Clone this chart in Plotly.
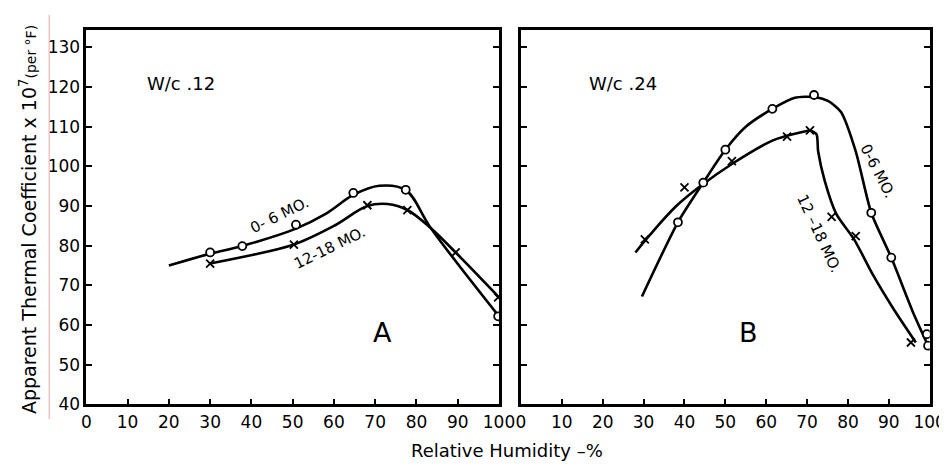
import plotly.graph_objects as go

# ---------------- data ----------------
# Panel A : w/c .12
A_06_pts_x = [30, 37.8, 50.8, 64.7, 77.4, 99.8]
A_06_pts_y = [78.3, 79.9, 85.3, 93.3, 94.1, 62.2]
A_06_curve_x = [20, 30, 38, 50.8, 58, 64.7, 71, 77.4, 83.5, 100]
A_06_curve_y = [75, 78, 80, 84.3, 88, 92.8, 95.1, 94, 84.4, 62.2]

A_1218_pts_x = [30, 50.3, 68.1, 77.8, 89.5, 99.8]
A_1218_pts_y = [75.5, 80.3, 90.2, 89.0, 78.3, 67.0]
A_1218_curve_x = [30, 39, 50.3, 60, 68.1, 73, 77.8, 83.5, 89.5, 100]
A_1218_curve_y = [75.5, 77.4, 80.3, 85, 90, 90.5, 89, 84.4, 78.3, 67]

# Panel B : w/c .24
B_06_pts_x = [38.4, 44.6, 50, 61.5, 71.7, 85.7, 90.6, 99.3, 99.6]
B_06_pts_y = [85.9, 95.9, 104.2, 114.5, 118.0, 88.3, 77.0, 57.7, 54.8]
B_06_curve_x = [29.6, 38.4, 44.6, 50, 55, 61.5, 67, 71.7, 75.1, 78.3, 81.9, 85.7, 90.6, 95.8, 99.6]
B_06_curve_y = [67.2, 85.9, 95.9, 104.2, 110, 114.5, 117.3, 117.5, 116.5, 113.7, 103.8, 88.3, 77, 63.5, 54.8]

B_1218_pts_x = [30.3, 40, 51.6, 65.1, 70.7, 76.0, 81.9, 95.4]
B_1218_pts_y = [81.6, 94.7, 101.3, 107.5, 109.1, 87.3, 82.4, 55.6]
B_1218_rise_x = [28, 31.6, 38, 44, 51.6, 61.5, 65, 70.7]
B_1218_rise_y = [78.3, 82.8, 90, 95.1, 100.6, 106.5, 107.7, 109.1]
B_1218_fall_x = [70.7, 72.3, 72.7, 74.3, 77.1, 81.5, 86.2, 91, 96.6]
B_1218_fall_y = [109.1, 108.1, 103.8, 96.4, 88.1, 81.6, 72.5, 64.3, 55.6]

x_ticks = [0, 10, 20, 30, 40, 50, 60, 70, 80, 90, 100]
y_ticks = [40, 50, 60, 70, 80, 90, 100, 110, 120, 130]

FONT = "DejaVu Sans"
LW = 2.6

fig = go.Figure()


def curve(x, y, xa, ya, smooth=1.0):
    fig.add_trace(go.Scatter(x=x, y=y, xaxis=xa, yaxis=ya, mode="lines",
                             line=dict(color="black", width=LW, shape="spline", smoothing=smooth),
                             hoverinfo="skip", showlegend=False))


def circles(x, y, xa, ya):
    fig.add_trace(go.Scatter(x=x, y=y, xaxis=xa, yaxis=ya, mode="markers",
                             marker=dict(symbol="circle", size=8, color="white",
                                         line=dict(color="black", width=1.8)),
                             showlegend=False))


def crosses(x, y, xa, ya):
    fig.add_trace(go.Scatter(x=x, y=y, xaxis=xa, yaxis=ya, mode="markers",
                             marker=dict(symbol="x-thin", size=8,
                                         line=dict(color="black", width=1.8)),
                             showlegend=False))


curve(A_06_curve_x, A_06_curve_y, "x", "y")
curve(A_1218_curve_x, A_1218_curve_y, "x", "y")
circles(A_06_pts_x, A_06_pts_y, "x", "y")
crosses(A_1218_pts_x, A_1218_pts_y, "x", "y")

curve(B_06_curve_x, B_06_curve_y, "x2", "y2", smooth=0.7)
curve(B_1218_rise_x, B_1218_rise_y, "x2", "y2")
curve(B_1218_fall_x, B_1218_fall_y, "x2", "y2", smooth=0.7)
circles(B_06_pts_x, B_06_pts_y, "x2", "y2")
crosses(B_1218_pts_x, B_1218_pts_y, "x2", "y2")

W, H = 947, 470
ax_common = dict(showgrid=False, zeroline=False, showline=True, linecolor="black",
                 linewidth=LW, mirror=True, ticks="inside", ticklen=6, tickwidth=2,
                 tickcolor="black", tickfont=dict(family=FONT, size=17, color="black"))

fig.update_layout(
    width=W, height=H, margin=dict(l=0, r=0, t=0, b=0),
    paper_bgcolor="white", plot_bgcolor="white",
    xaxis=dict(ax_common, domain=[75 / W, 497 / W], range=[0, 100], tickvals=x_ticks,
               mirror=True, anchor="y"),
    yaxis=dict(ax_common, domain=[(H - 405) / H, (H - 22) / H], range=[40, 134.5],
               tickvals=y_ticks, mirror="ticks", anchor="x"),
    xaxis2=dict(ax_common, domain=[519.5 / W, 937.5 / W], range=[0, 100], tickvals=x_ticks,
                mirror=True, anchor="y2"),
    yaxis2=dict(ax_common, domain=[(H - 405) / H, (H - 22) / H], range=[40, 134.5],
                tickvals=y_ticks, showticklabels=False, mirror="ticks", anchor="x2"),
)

ann = []


def txt(x, y, s, xr, yr, size, angle=0):
    ann.append(dict(x=x, y=y, xref=xr, yref=yr, text=s, showarrow=False, textangle=angle,
                    xanchor="center", yanchor="middle",
                    font=dict(family=FONT, size=size, color="black")))


txt(23, 121, "W/c .12", "x", "y", 18)
txt(25, 121, "W/c .24", "x2", "y2", 18)
txt(71.7, 58, "A", "x", "y", 27)
txt(55.7, 58, "B", "x2", "y2", 27)
txt(46.9, 87.8, "0- 6 MO.", "x", "y", 15, -26)
txt(58.9, 79.5, "12-18 MO.", "x", "y", 15, -26)
txt(87.3, 98.9, "0-6 MO.", "x2", "y2", 15, 63)
txt(73.0, 83, "12 –18 MO.", "x2", "y2", 15, 65)

txt(505 / W, (H - 452) / H, "Relative Humidity –%", "paper", "paper", 18)
txt(16 / W, (H - 216) / H,
    "Apparent Thermal Coefficient x 10<sup>7</sup><span style='font-size:14px'>(per °F)</span>",
    "paper", "paper", 19, -90)

fig.update_layout(annotations=ann)

fig.add_shape(type="line", xref="paper", yref="paper", x0=37 / W, x1=37 / W,
              y0=(H - 420) / H, y1=(H - 7) / H, line=dict(color="#f3a6a6", width=1))

fig.write_html("out.html")
